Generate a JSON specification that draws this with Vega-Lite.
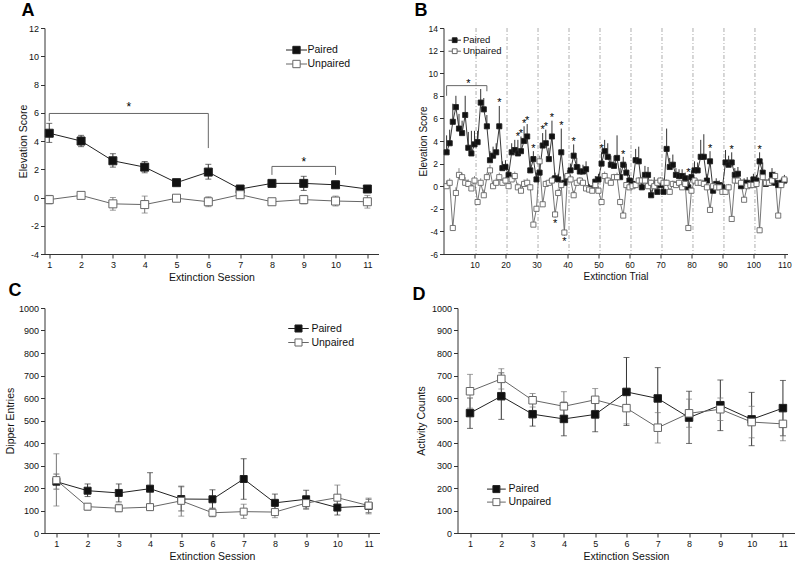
{
"$schema": "https://vega.github.io/schema/vega-lite/v6.json",
"padding": {"left": 5.5, "top": 2, "right": 0, "bottom": 0},
"background": "white",
"config": {
 "font": "Liberation Sans",
 "view": {"stroke": null},
 "locale": {"number": {"decimal": ".", "thousands": ",", "grouping": [3], "currency": ["$", ""], "minus": "-"}},
 "axis": {"grid": false, "labelOverlap": false, "domainColor": "#333", "tickColor": "#333", "labelColor": "#111", "titleColor": "#111", "labelFontSize": 9, "titleFontSize": 10.5, "titleFontWeight": "normal", "tickSize": 4, "labelPadding": 2, "domainWidth": 1, "tickWidth": 1, "labelFont": "Liberation Sans", "titleFont": "Liberation Sans"},
 "legend": {"labelFont": "Liberation Sans", "labelColor": "#111", "symbolStrokeWidth": 1, "rowPadding": 0, "padding": 0},
 "title": {"font": "Liberation Sans", "fontSize": 18, "fontWeight": "bold", "anchor": "start", "frame": "bounds", "color": "#000"}
},
"datasets": {
 "a": [
  {"s":1,"g":"Paired","v":4.55,"lo":3.9,"hi":5.25},{"s":2,"g":"Paired","v":4.0,"lo":3.6,"hi":4.4},{"s":3,"g":"Paired","v":2.6,"lo":2.15,"hi":3.1},{"s":4,"g":"Paired","v":2.15,"lo":1.75,"hi":2.55},{"s":5,"g":"Paired","v":1.05,"lo":0.9,"hi":1.2},{"s":6,"g":"Paired","v":1.8,"lo":1.3,"hi":2.35},{"s":7,"g":"Paired","v":0.6,"lo":0.5,"hi":0.7},{"s":8,"g":"Paired","v":1.0,"lo":0.85,"hi":1.15},{"s":9,"g":"Paired","v":1.0,"lo":0.5,"hi":1.5},{"s":10,"g":"Paired","v":0.9,"lo":0.65,"hi":1.15},{"s":11,"g":"Paired","v":0.6,"lo":0.5,"hi":0.7},
  {"s":1,"g":"Unpaired","v":-0.15,"lo":-0.45,"hi":0.15},{"s":2,"g":"Unpaired","v":0.15,"lo":0.05,"hi":0.25},{"s":3,"g":"Unpaired","v":-0.45,"lo":-0.9,"hi":0.0},{"s":4,"g":"Unpaired","v":-0.5,"lo":-1.1,"hi":0.1},{"s":5,"g":"Unpaired","v":-0.05,"lo":-0.2,"hi":0.1},{"s":6,"g":"Unpaired","v":-0.3,"lo":-0.65,"hi":0.05},{"s":7,"g":"Unpaired","v":0.2,"lo":0.1,"hi":0.3},{"s":8,"g":"Unpaired","v":-0.3,"lo":-0.5,"hi":-0.1},{"s":9,"g":"Unpaired","v":-0.15,"lo":-0.45,"hi":0.15},{"s":10,"g":"Unpaired","v":-0.25,"lo":-0.6,"hi":0.1},{"s":11,"g":"Unpaired","v":-0.3,"lo":-0.75,"hi":0.15}
 ],
 "aBr": [
  {"b":1,"i":1,"x":1,"y":5.4},{"b":1,"i":2,"x":1,"y":5.95},{"b":1,"i":3,"x":6,"y":5.95},{"b":1,"i":4,"x":6,"y":3.5},
  {"b":2,"i":1,"x":8,"y":1.6},{"b":2,"i":2,"x":8,"y":2.2},{"b":2,"i":3,"x":10,"y":2.2},{"b":2,"i":4,"x":10,"y":1.6}
 ],
 "aStar": [{"x":3.5,"y":6.6},{"x":9,"y":2.7}],
 "b": [
  {"t":1,"g":"Paired","v":3.0,"lo":3.0,"hi":4.5},{"t":2,"g":"Paired","v":3.8,"lo":3.8,"hi":5.0},{"t":3,"g":"Paired","v":5.7,"lo":5.7,"hi":7.3},{"t":4,"g":"Paired","v":7.0,"lo":7.0,"hi":8.0},{"t":5,"g":"Paired","v":5.1,"lo":5.1,"hi":6.4},{"t":6,"g":"Paired","v":4.7,"lo":4.7,"hi":5.8},{"t":7,"g":"Paired","v":6.3,"lo":6.3,"hi":8.0},{"t":8,"g":"Paired","v":3.4,"lo":3.4,"hi":4.8},{"t":9,"g":"Paired","v":2.9,"lo":2.9,"hi":4.9},{"t":10,"g":"Paired","v":3.7,"lo":3.7,"hi":4.9},
  {"t":11,"g":"Paired","v":3.9,"lo":3.9,"hi":4.9},{"t":12,"g":"Paired","v":7.4,"lo":7.4,"hi":8.6},{"t":13,"g":"Paired","v":6.8,"lo":6.8,"hi":7.8},{"t":14,"g":"Paired","v":5.3,"lo":5.3,"hi":6.3},{"t":15,"g":"Paired","v":2.3,"lo":2.3,"hi":3.1},{"t":16,"g":"Paired","v":2.7,"lo":2.7,"hi":3.5},{"t":17,"g":"Paired","v":3.0,"lo":3.0,"hi":3.8},{"t":18,"g":"Paired","v":5.3,"lo":5.3,"hi":7.1},{"t":19,"g":"Paired","v":1.6,"lo":1.6,"hi":2.2},{"t":20,"g":"Paired","v":1.7,"lo":1.7,"hi":2.3},
  {"t":21,"g":"Paired","v":1.0,"lo":1.0,"hi":1.5},{"t":22,"g":"Paired","v":3.0,"lo":3.0,"hi":3.8},{"t":23,"g":"Paired","v":3.2,"lo":3.2,"hi":4.1},{"t":24,"g":"Paired","v":2.9,"lo":2.9,"hi":4.1},{"t":25,"g":"Paired","v":3.1,"lo":3.1,"hi":4.4},{"t":26,"g":"Paired","v":4.0,"lo":4.0,"hi":5.3},{"t":27,"g":"Paired","v":4.4,"lo":4.4,"hi":5.5},{"t":28,"g":"Paired","v":1.4,"lo":1.4,"hi":2.2},{"t":29,"g":"Paired","v":2.4,"lo":2.4,"hi":3.1},{"t":30,"g":"Paired","v":0.6,"lo":0.6,"hi":1.2},
  {"t":31,"g":"Paired","v":1.2,"lo":1.2,"hi":2.0},{"t":32,"g":"Paired","v":3.6,"lo":3.6,"hi":4.7},{"t":33,"g":"Paired","v":3.8,"lo":3.8,"hi":5.0},{"t":34,"g":"Paired","v":2.4,"lo":2.4,"hi":3.4},{"t":35,"g":"Paired","v":4.4,"lo":4.4,"hi":5.8},{"t":36,"g":"Paired","v":0.7,"lo":0.7,"hi":1.2},{"t":37,"g":"Paired","v":0.6,"lo":0.6,"hi":1.1},{"t":38,"g":"Paired","v":3.0,"lo":3.0,"hi":5.1},{"t":39,"g":"Paired","v":0.3,"lo":0.3,"hi":0.7},{"t":40,"g":"Paired","v":0.8,"lo":0.8,"hi":1.4},
  {"t":41,"g":"Paired","v":1.4,"lo":1.4,"hi":2.0},{"t":42,"g":"Paired","v":2.7,"lo":2.7,"hi":3.7},{"t":43,"g":"Paired","v":1.7,"lo":1.7,"hi":2.5},{"t":44,"g":"Paired","v":1.3,"lo":1.3,"hi":1.9},{"t":45,"g":"Paired","v":1.3,"lo":1.3,"hi":1.9},{"t":46,"g":"Paired","v":1.5,"lo":1.5,"hi":2.2},{"t":47,"g":"Paired","v":-0.2,"lo":-0.2,"hi":0.2},{"t":48,"g":"Paired","v":-0.3,"lo":-0.3,"hi":0.1},{"t":49,"g":"Paired","v":0.4,"lo":0.4,"hi":0.9},{"t":50,"g":"Paired","v":0.6,"lo":0.6,"hi":1.1},
  {"t":51,"g":"Paired","v":2.0,"lo":2.0,"hi":3.0},{"t":52,"g":"Paired","v":3.1,"lo":3.1,"hi":4.1},{"t":53,"g":"Paired","v":2.6,"lo":2.6,"hi":3.8},{"t":54,"g":"Paired","v":1.9,"lo":1.9,"hi":2.7},{"t":55,"g":"Paired","v":1.8,"lo":1.8,"hi":2.7},{"t":56,"g":"Paired","v":2.5,"lo":2.5,"hi":4.5},{"t":57,"g":"Paired","v":0.8,"lo":0.8,"hi":1.6},{"t":58,"g":"Paired","v":1.9,"lo":1.9,"hi":2.6},{"t":59,"g":"Paired","v":1.2,"lo":1.2,"hi":2.0},{"t":60,"g":"Paired","v":0.5,"lo":0.5,"hi":1.0},
  {"t":61,"g":"Paired","v":0.2,"lo":0.2,"hi":0.7},{"t":62,"g":"Paired","v":2.3,"lo":2.3,"hi":3.3},{"t":63,"g":"Paired","v":2.2,"lo":2.2,"hi":3.5},{"t":64,"g":"Paired","v":-0.1,"lo":-0.1,"hi":0.3},{"t":65,"g":"Paired","v":1.0,"lo":1.0,"hi":1.8},{"t":66,"g":"Paired","v":1.0,"lo":1.0,"hi":1.7},{"t":67,"g":"Paired","v":-0.8,"lo":-0.8,"hi":-0.3},{"t":68,"g":"Paired","v":0.2,"lo":0.2,"hi":0.8},{"t":69,"g":"Paired","v":-0.5,"lo":-0.5,"hi":0.0},{"t":70,"g":"Paired","v":0.1,"lo":0.1,"hi":0.7},
  {"t":71,"g":"Paired","v":-0.5,"lo":-0.5,"hi":0.0},{"t":72,"g":"Paired","v":3.3,"lo":3.3,"hi":5.1},{"t":73,"g":"Paired","v":1.7,"lo":1.7,"hi":2.5},{"t":74,"g":"Paired","v":1.9,"lo":1.9,"hi":2.8},{"t":75,"g":"Paired","v":1.0,"lo":1.0,"hi":1.6},{"t":76,"g":"Paired","v":0.9,"lo":0.9,"hi":1.5},{"t":77,"g":"Paired","v":0.9,"lo":0.9,"hi":1.5},{"t":78,"g":"Paired","v":0.7,"lo":0.7,"hi":1.2},{"t":79,"g":"Paired","v":-0.1,"lo":-0.1,"hi":0.9},{"t":80,"g":"Paired","v":0.8,"lo":0.8,"hi":1.4},
  {"t":81,"g":"Paired","v":1.4,"lo":1.4,"hi":2.2},{"t":82,"g":"Paired","v":1.4,"lo":1.4,"hi":2.1},{"t":83,"g":"Paired","v":2.6,"lo":2.6,"hi":4.1},{"t":84,"g":"Paired","v":2.6,"lo":2.6,"hi":4.6},{"t":85,"g":"Paired","v":0.5,"lo":0.5,"hi":1.1},{"t":86,"g":"Paired","v":2.2,"lo":2.2,"hi":3.1},{"t":87,"g":"Paired","v":-0.4,"lo":-0.4,"hi":0.1},{"t":88,"g":"Paired","v":0.2,"lo":0.2,"hi":0.7},{"t":89,"g":"Paired","v":0.1,"lo":0.1,"hi":0.5},{"t":90,"g":"Paired","v":-0.1,"lo":-0.1,"hi":0.3},
  {"t":91,"g":"Paired","v":2.1,"lo":2.1,"hi":3.2},{"t":92,"g":"Paired","v":1.9,"lo":1.9,"hi":2.7},{"t":93,"g":"Paired","v":2.1,"lo":2.1,"hi":3.0},{"t":94,"g":"Paired","v":1.0,"lo":1.0,"hi":1.6},{"t":95,"g":"Paired","v":1.1,"lo":1.1,"hi":1.7},{"t":96,"g":"Paired","v":0.0,"lo":0.0,"hi":0.4},{"t":97,"g":"Paired","v":0.3,"lo":0.3,"hi":0.7},{"t":98,"g":"Paired","v":0.3,"lo":0.3,"hi":0.8},{"t":99,"g":"Paired","v":0.1,"lo":0.1,"hi":0.5},{"t":100,"g":"Paired","v":0.6,"lo":0.6,"hi":1.1},
  {"t":101,"g":"Paired","v":0.5,"lo":0.5,"hi":1.0},{"t":102,"g":"Paired","v":2.2,"lo":2.2,"hi":3.0},{"t":103,"g":"Paired","v":1.2,"lo":1.2,"hi":2.1},{"t":104,"g":"Paired","v":0.2,"lo":0.2,"hi":0.6},{"t":105,"g":"Paired","v":0.3,"lo":0.3,"hi":0.7},{"t":106,"g":"Paired","v":1.0,"lo":1.0,"hi":1.6},{"t":107,"g":"Paired","v":0.3,"lo":0.3,"hi":0.7},{"t":108,"g":"Paired","v":0.1,"lo":0.1,"hi":0.5},{"t":109,"g":"Paired","v":0.3,"lo":0.3,"hi":0.7},{"t":110,"g":"Paired","v":0.5,"lo":0.5,"hi":1.0},
  {"t":1,"g":"Unpaired","v":0.0,"lo":0.0,"hi":0.5},{"t":2,"g":"Unpaired","v":0.3,"lo":0.3,"hi":0.7},{"t":3,"g":"Unpaired","v":-3.7,"lo":-3.9,"hi":-3.7},{"t":4,"g":"Unpaired","v":-0.6,"lo":-0.6,"hi":-0.1},{"t":5,"g":"Unpaired","v":1.0,"lo":1.0,"hi":1.6},{"t":6,"g":"Unpaired","v":0.8,"lo":0.8,"hi":1.2},{"t":7,"g":"Unpaired","v":0.3,"lo":0.3,"hi":0.8},{"t":8,"g":"Unpaired","v":0.2,"lo":0.2,"hi":0.6},{"t":9,"g":"Unpaired","v":-0.2,"lo":-0.2,"hi":0.2},{"t":10,"g":"Unpaired","v":0.5,"lo":0.5,"hi":0.9},
  {"t":11,"g":"Unpaired","v":-1.4,"lo":-1.6,"hi":-1.4},{"t":12,"g":"Unpaired","v":0.3,"lo":0.3,"hi":0.7},{"t":13,"g":"Unpaired","v":-0.8,"lo":-0.8,"hi":-0.3},{"t":14,"g":"Unpaired","v":0.8,"lo":0.8,"hi":1.2},{"t":15,"g":"Unpaired","v":1.4,"lo":1.4,"hi":1.9},{"t":16,"g":"Unpaired","v":0.0,"lo":0.0,"hi":0.4},{"t":17,"g":"Unpaired","v":0.3,"lo":0.3,"hi":0.7},{"t":18,"g":"Unpaired","v":0.8,"lo":0.8,"hi":1.2},{"t":19,"g":"Unpaired","v":0.3,"lo":0.3,"hi":0.6},{"t":20,"g":"Unpaired","v":0.5,"lo":0.5,"hi":0.8},
  {"t":21,"g":"Unpaired","v":0.0,"lo":0.0,"hi":0.3},{"t":22,"g":"Unpaired","v":0.6,"lo":0.6,"hi":1.0},{"t":23,"g":"Unpaired","v":0.9,"lo":0.9,"hi":1.3},{"t":24,"g":"Unpaired","v":-0.1,"lo":-0.1,"hi":0.3},{"t":25,"g":"Unpaired","v":-0.4,"lo":-0.4,"hi":0.0},{"t":26,"g":"Unpaired","v":0.2,"lo":0.2,"hi":0.6},{"t":27,"g":"Unpaired","v":0.3,"lo":0.3,"hi":0.7},{"t":28,"g":"Unpaired","v":-0.1,"lo":-0.1,"hi":0.2},{"t":29,"g":"Unpaired","v":-3.4,"lo":-3.6,"hi":-3.4},{"t":30,"g":"Unpaired","v":-2.0,"lo":-2.2,"hi":-2.0},
  {"t":31,"g":"Unpaired","v":2.2,"lo":2.2,"hi":2.7},{"t":32,"g":"Unpaired","v":-1.6,"lo":-1.8,"hi":-1.6},{"t":33,"g":"Unpaired","v":0.2,"lo":0.2,"hi":0.5},{"t":34,"g":"Unpaired","v":0.3,"lo":0.3,"hi":0.6},{"t":35,"g":"Unpaired","v":0.5,"lo":0.5,"hi":0.9},{"t":36,"g":"Unpaired","v":-2.5,"lo":-2.8,"hi":-2.5},{"t":37,"g":"Unpaired","v":-0.6,"lo":-0.6,"hi":-0.2},{"t":38,"g":"Unpaired","v":0.1,"lo":0.1,"hi":0.5},{"t":39,"g":"Unpaired","v":-4.1,"lo":-4.4,"hi":-4.1},{"t":40,"g":"Unpaired","v":0.9,"lo":0.9,"hi":1.3},
  {"t":41,"g":"Unpaired","v":0.6,"lo":0.6,"hi":1.0},{"t":42,"g":"Unpaired","v":-0.8,"lo":-0.8,"hi":-0.4},{"t":43,"g":"Unpaired","v":0.3,"lo":0.3,"hi":0.6},{"t":44,"g":"Unpaired","v":0.5,"lo":0.5,"hi":0.8},{"t":45,"g":"Unpaired","v":0.3,"lo":0.3,"hi":0.6},{"t":46,"g":"Unpaired","v":-0.2,"lo":-0.2,"hi":0.1},{"t":47,"g":"Unpaired","v":-0.3,"lo":-0.3,"hi":0.0},{"t":48,"g":"Unpaired","v":-0.4,"lo":-0.4,"hi":0.0},{"t":49,"g":"Unpaired","v":0.1,"lo":0.1,"hi":0.4},{"t":50,"g":"Unpaired","v":-0.4,"lo":-0.4,"hi":0.0},
  {"t":51,"g":"Unpaired","v":-1.4,"lo":-1.6,"hi":-1.4},{"t":52,"g":"Unpaired","v":0.9,"lo":0.9,"hi":1.3},{"t":53,"g":"Unpaired","v":0.5,"lo":0.5,"hi":0.8},{"t":54,"g":"Unpaired","v":0.3,"lo":0.3,"hi":0.6},{"t":55,"g":"Unpaired","v":0.8,"lo":0.8,"hi":1.1},{"t":56,"g":"Unpaired","v":0.8,"lo":0.8,"hi":1.2},{"t":57,"g":"Unpaired","v":-1.4,"lo":-1.6,"hi":-1.4},{"t":58,"g":"Unpaired","v":-2.6,"lo":-2.8,"hi":-2.6},{"t":59,"g":"Unpaired","v":0.1,"lo":0.1,"hi":0.4},{"t":60,"g":"Unpaired","v":-0.1,"lo":-0.1,"hi":0.2},
  {"t":61,"g":"Unpaired","v":0.0,"lo":0.0,"hi":0.3},{"t":62,"g":"Unpaired","v":0.1,"lo":0.1,"hi":0.4},{"t":63,"g":"Unpaired","v":0.5,"lo":0.5,"hi":0.8},{"t":64,"g":"Unpaired","v":0.5,"lo":0.5,"hi":0.8},{"t":65,"g":"Unpaired","v":0.5,"lo":0.5,"hi":0.8},{"t":66,"g":"Unpaired","v":0.0,"lo":0.0,"hi":0.3},{"t":67,"g":"Unpaired","v":0.3,"lo":0.3,"hi":0.6},{"t":68,"g":"Unpaired","v":0.0,"lo":0.0,"hi":0.3},{"t":69,"g":"Unpaired","v":0.3,"lo":0.3,"hi":0.6},{"t":70,"g":"Unpaired","v":0.5,"lo":0.5,"hi":0.8},
  {"t":71,"g":"Unpaired","v":0.3,"lo":0.3,"hi":0.6},{"t":72,"g":"Unpaired","v":0.3,"lo":0.3,"hi":0.6},{"t":73,"g":"Unpaired","v":-0.5,"lo":-0.5,"hi":-0.2},{"t":74,"g":"Unpaired","v":0.2,"lo":0.2,"hi":0.5},{"t":75,"g":"Unpaired","v":0.1,"lo":0.1,"hi":0.4},{"t":76,"g":"Unpaired","v":0.3,"lo":0.3,"hi":0.6},{"t":77,"g":"Unpaired","v":-0.1,"lo":-0.1,"hi":0.2},{"t":78,"g":"Unpaired","v":0.2,"lo":0.2,"hi":0.5},{"t":79,"g":"Unpaired","v":-3.7,"lo":-3.9,"hi":-3.7},{"t":80,"g":"Unpaired","v":-0.4,"lo":-0.4,"hi":-0.1},
  {"t":81,"g":"Unpaired","v":0.5,"lo":0.5,"hi":0.8},{"t":82,"g":"Unpaired","v":0.3,"lo":0.3,"hi":0.6},{"t":83,"g":"Unpaired","v":0.3,"lo":0.3,"hi":0.6},{"t":84,"g":"Unpaired","v":0.2,"lo":0.2,"hi":0.5},{"t":85,"g":"Unpaired","v":-0.1,"lo":-0.1,"hi":0.2},{"t":86,"g":"Unpaired","v":-2.1,"lo":-2.3,"hi":-2.1},{"t":87,"g":"Unpaired","v":0.0,"lo":0.0,"hi":0.3},{"t":88,"g":"Unpaired","v":-0.1,"lo":-0.1,"hi":0.2},{"t":89,"g":"Unpaired","v":-0.1,"lo":-0.1,"hi":0.2},{"t":90,"g":"Unpaired","v":-0.5,"lo":-0.5,"hi":-0.2},
  {"t":91,"g":"Unpaired","v":-0.5,"lo":-0.5,"hi":-0.2},{"t":92,"g":"Unpaired","v":-0.1,"lo":-0.1,"hi":0.2},{"t":93,"g":"Unpaired","v":-2.9,"lo":-3.1,"hi":-2.9},{"t":94,"g":"Unpaired","v":0.5,"lo":0.5,"hi":0.8},{"t":95,"g":"Unpaired","v":0.5,"lo":0.5,"hi":0.8},{"t":96,"g":"Unpaired","v":0.3,"lo":0.3,"hi":0.6},{"t":97,"g":"Unpaired","v":-1.2,"lo":-1.4,"hi":-1.2},{"t":98,"g":"Unpaired","v":0.0,"lo":0.0,"hi":0.3},{"t":99,"g":"Unpaired","v":0.1,"lo":0.1,"hi":0.4},{"t":100,"g":"Unpaired","v":0.1,"lo":0.1,"hi":0.4},
  {"t":101,"g":"Unpaired","v":0.2,"lo":0.2,"hi":0.5},{"t":102,"g":"Unpaired","v":-3.9,"lo":-4.1,"hi":-3.9},{"t":103,"g":"Unpaired","v":0.8,"lo":0.8,"hi":1.1},{"t":104,"g":"Unpaired","v":0.3,"lo":0.3,"hi":0.6},{"t":105,"g":"Unpaired","v":0.3,"lo":0.3,"hi":0.6},{"t":106,"g":"Unpaired","v":0.5,"lo":0.5,"hi":0.8},{"t":107,"g":"Unpaired","v":0.9,"lo":0.9,"hi":1.3},{"t":108,"g":"Unpaired","v":-2.6,"lo":-2.8,"hi":-2.6},{"t":109,"g":"Unpaired","v":0.1,"lo":0.1,"hi":0.4},{"t":110,"g":"Unpaired","v":0.6,"lo":0.6,"hi":0.9}
 ],
 "bBr": [{"b":1,"i":1,"x":1,"y":8.0},{"b":1,"i":2,"x":1,"y":8.9},{"b":1,"i":3,"x":14,"y":8.9},{"b":1,"i":4,"x":14,"y":8.4}],
 "bStar": [{"x":8,"y":9.3},{"x":18,"y":7.6},{"x":24,"y":4.6},{"x":25,"y":4.9},{"x":26,"y":5.8},{"x":27,"y":6.0},{"x":29,"y":3.6},{"x":32,"y":5.2},{"x":33,"y":5.5},{"x":35,"y":6.3},{"x":38,"y":5.6},{"x":42,"y":4.2},{"x":36,"y":-3.1},{"x":39,"y":-4.7},{"x":51,"y":3.6},{"x":58,"y":3.0},{"x":79,"y":1.4},{"x":86,"y":3.6},{"x":93,"y":3.5},{"x":102,"y":3.5}],
 "bSep": [{"x":10.5},{"x":20.5},{"x":30.5},{"x":40.5},{"x":50.5},{"x":60.5},{"x":70.5},{"x":80.5},{"x":90.5},{"x":100.5}],
 "c": [
  {"s":1,"g":"Paired","v":228,"lo":195,"hi":262},{"s":2,"g":"Paired","v":188,"lo":162,"hi":218},{"s":3,"g":"Paired","v":178,"lo":138,"hi":218},{"s":4,"g":"Paired","v":197,"lo":127,"hi":268},{"s":5,"g":"Paired","v":151,"lo":98,"hi":208},{"s":6,"g":"Paired","v":150,"lo":110,"hi":192},{"s":7,"g":"Paired","v":240,"lo":150,"hi":330},{"s":8,"g":"Paired","v":134,"lo":95,"hi":173},{"s":9,"g":"Paired","v":150,"lo":110,"hi":190},{"s":10,"g":"Paired","v":113,"lo":80,"hi":148},{"s":11,"g":"Paired","v":120,"lo":90,"hi":150},
  {"s":1,"g":"Unpaired","v":235,"lo":120,"hi":352},{"s":2,"g":"Unpaired","v":117,"lo":102,"hi":130},{"s":3,"g":"Unpaired","v":110,"lo":95,"hi":128},{"s":4,"g":"Unpaired","v":115,"lo":100,"hi":130},{"s":5,"g":"Unpaired","v":143,"lo":75,"hi":205},{"s":6,"g":"Unpaired","v":90,"lo":72,"hi":110},{"s":7,"g":"Unpaired","v":95,"lo":65,"hi":128},{"s":8,"g":"Unpaired","v":93,"lo":68,"hi":118},{"s":9,"g":"Unpaired","v":133,"lo":105,"hi":148},{"s":10,"g":"Unpaired","v":157,"lo":100,"hi":213},{"s":11,"g":"Unpaired","v":122,"lo":85,"hi":155}
 ],
 "d": [
  {"s":1,"g":"Paired","v":533,"lo":465,"hi":600},{"s":2,"g":"Paired","v":608,"lo":505,"hi":712},{"s":3,"g":"Paired","v":528,"lo":475,"hi":582},{"s":4,"g":"Paired","v":507,"lo":432,"hi":582},{"s":5,"g":"Paired","v":527,"lo":450,"hi":605},{"s":6,"g":"Paired","v":627,"lo":478,"hi":780},{"s":7,"g":"Paired","v":598,"lo":460,"hi":735},{"s":8,"g":"Paired","v":513,"lo":398,"hi":630},{"s":9,"g":"Paired","v":568,"lo":455,"hi":680},{"s":10,"g":"Paired","v":505,"lo":388,"hi":625},{"s":11,"g":"Paired","v":555,"lo":432,"hi":678},
  {"s":1,"g":"Unpaired","v":630,"lo":555,"hi":705},{"s":2,"g":"Unpaired","v":685,"lo":640,"hi":730},{"s":3,"g":"Unpaired","v":590,"lo":560,"hi":620},{"s":4,"g":"Unpaired","v":563,"lo":500,"hi":628},{"s":5,"g":"Unpaired","v":592,"lo":545,"hi":642},{"s":6,"g":"Unpaired","v":555,"lo":485,"hi":625},{"s":7,"g":"Unpaired","v":468,"lo":400,"hi":535},{"s":8,"g":"Unpaired","v":532,"lo":470,"hi":595},{"s":9,"g":"Unpaired","v":550,"lo":500,"hi":600},{"s":10,"g":"Unpaired","v":493,"lo":423,"hi":563},{"s":11,"g":"Unpaired","v":485,"lo":410,"hi":560}
 ]
},
"resolve": {"scale": {"fill": "independent", "stroke": "independent"}, "legend": {"fill": "independent", "stroke": "independent"}},
"spacing": -1,
"vconcat": [
 {
  "spacing": 36,
  "resolve": {"scale": {"fill": "independent", "stroke": "independent"}, "legend": {"fill": "independent", "stroke": "independent"}},
  "hconcat": [
   {
    "width": 334, "height": 226,
    "title": {"text": "A", "offset": 4, "dx": 3},
    "layer": [
     {"mark": {"type": "rule", "strokeDash": [1, 2], "color": "#777", "strokeWidth": 0.8}, "encoding": {"y": {"datum": 0, "type": "quantitative", "title": "Elevation Score", "axis": {"values": [-4,-2,0,2,4,6,8,10,12], "labelOverlap": false, "format": "d", "minExtent": 15, "maxExtent": 15, "titlePadding": 1}}}},
     {"data": {"name": "aBr"}, "mark": {"type": "line", "color": "#666", "strokeWidth": 1}, "encoding": {"x": {"field": "x", "type": "quantitative", "title": "Extinction Session", "axis": {"values": [1,2,3,4,5,6,7,8,9,10,11], "labelOverlap": false, "format": "d", "titlePadding": 3}}, "y": {"field": "y", "type": "quantitative", "title": "Elevation Score", "axis": {"values": [-4,-2,0,2,4,6,8,10,12], "labelOverlap": false, "format": "d", "minExtent": 15, "maxExtent": 15, "titlePadding": 1}}, "detail": {"field": "b"}, "order": {"field": "i"}}},
     {"data": {"name": "aStar"}, "mark": {"type": "text", "text": "*", "fontSize": 12, "baseline": "alphabetic", "dy": 6.5, "color": "#000"}, "encoding": {"x": {"field": "x", "type": "quantitative", "title": "Extinction Session", "axis": {"values": [1,2,3,4,5,6,7,8,9,10,11], "labelOverlap": false, "format": "d", "titlePadding": 3}}, "y": {"field": "y", "type": "quantitative", "title": "Elevation Score", "axis": {"values": [-4,-2,0,2,4,6,8,10,12], "labelOverlap": false, "format": "d", "minExtent": 15, "maxExtent": 15, "titlePadding": 1}}}},
     {"data": {"name": "a"}, "transform": [{"filter": {"field": "g", "equal": "Paired"}}], "mark": {"type": "errorbar", "ticks": {"size": 6}, "thickness": 1, "color": "#333"}, "encoding": {"x": {"field": "s", "type": "quantitative", "title": "Extinction Session", "axis": {"values": [1,2,3,4,5,6,7,8,9,10,11], "labelOverlap": false, "format": "d", "titlePadding": 3}}, "y": {"field": "lo", "type": "quantitative", "title": "Elevation Score", "axis": {"values": [-4,-2,0,2,4,6,8,10,12], "labelOverlap": false, "format": "d", "minExtent": 15, "maxExtent": 15, "titlePadding": 1}}, "y2": {"field": "hi"}}},
     {"data": {"name": "a"}, "transform": [{"filter": {"field": "g", "equal": "Unpaired"}}], "mark": {"type": "errorbar", "ticks": {"size": 6}, "thickness": 1, "color": "#777"}, "encoding": {"x": {"field": "s", "type": "quantitative", "title": "Extinction Session", "axis": {"values": [1,2,3,4,5,6,7,8,9,10,11], "labelOverlap": false, "format": "d", "titlePadding": 3}}, "y": {"field": "lo", "type": "quantitative", "title": "Elevation Score", "axis": {"values": [-4,-2,0,2,4,6,8,10,12], "labelOverlap": false, "format": "d", "minExtent": 15, "maxExtent": 15, "titlePadding": 1}}, "y2": {"field": "hi"}}},
     {"data": {"name": "a"}, "mark": {"type": "line", "strokeWidth": 1}, "encoding": {"x": {"field": "s", "type": "quantitative", "title": "Extinction Session", "axis": {"values": [1,2,3,4,5,6,7,8,9,10,11], "labelOverlap": false, "format": "d", "titlePadding": 3}}, "y": {"field": "v", "type": "quantitative", "title": "Elevation Score", "axis": {"values": [-4,-2,0,2,4,6,8,10,12], "labelOverlap": false, "format": "d", "minExtent": 15, "maxExtent": 15, "titlePadding": 1}}, "stroke": {"field": "g", "type": "nominal", "scale": {"domain": ["Paired", "Unpaired"], "range": ["#222", "#666"]}}, "detail": {"field": "g"}}},
     {"data": {"name": "a"}, "mark": {"type": "square", "size": 64, "opacity": 1, "strokeWidth": 1},
      "encoding": {
       "x": {"field": "s", "type": "quantitative", "title": "Extinction Session", "scale": {"domain": [0.85, 11.35], "nice": false, "zero": false}, "axis": {"values": [1,2,3,4,5,6,7,8,9,10,11], "labelOverlap": false, "format": "d", "titlePadding": 3}},
       "y": {"field": "v", "type": "quantitative", "title": "Elevation Score", "scale": {"domain": [-4, 12], "nice": false, "zero": false}, "axis": {"values": [-4,-2,0,2,4,6,8,10,12], "labelOverlap": false, "format": "d", "minExtent": 15, "maxExtent": 15, "titlePadding": 1}},
       "fill": {"field": "g", "type": "nominal", "scale": {"domain": ["Paired", "Unpaired"], "range": ["#111", "#fff"]}, "legend": {"title": null, "orient": "none", "legendX": 244, "legendY": 14, "symbolType": "M-1.4,0H-0.49M0.49,0H1.4M-0.49,-0.49H0.49V0.49H-0.49Z", "symbolSize": 225, "labelFontSize": 10.5, "labelOffset": 3}},
       "stroke": {"field": "g", "type": "nominal", "scale": {"domain": ["Paired", "Unpaired"], "range": ["#222", "#666"]}, "legend": {"title": null, "orient": "none", "legendX": 244, "legendY": 14, "symbolType": "M-1.4,0H-0.49M0.49,0H1.4M-0.49,-0.49H0.49V0.49H-0.49Z", "symbolSize": 225, "labelFontSize": 10.5, "labelOffset": 3}}
      }}
    ]
   },
   {
    "width": 344, "height": 226,
    "title": {"text": "B", "offset": 4, "dx": -4},
    "layer": [
     {"data": {"name": "bSep"}, "mark": {"type": "rule", "strokeDash": [4, 2, 1, 2], "color": "#999", "strokeWidth": 0.8}, "encoding": {"x": {"field": "x", "type": "quantitative", "title": "Extinction Trial", "axis": {"values": [10,20,30,40,50,60,70,80,90,100,110], "labelOverlap": false, "format": "d", "labelFontSize": 8.5, "titleFontSize": 10, "titlePadding": 3}}}},
     {"mark": {"type": "rule", "strokeDash": [1, 2], "color": "#777", "strokeWidth": 0.8}, "encoding": {"y": {"datum": 0, "type": "quantitative", "title": "Elevation Score", "axis": {"values": [-6,-4,-2,0,2,4,6,8,10,12,14], "labelOverlap": false, "format": "d", "labelFontSize": 8.5, "titleFontSize": 10, "minExtent": 14, "maxExtent": 14, "titlePadding": 1}}}},
     {"data": {"name": "bBr"}, "mark": {"type": "line", "color": "#666", "strokeWidth": 1}, "encoding": {"x": {"field": "x", "type": "quantitative", "title": "Extinction Trial", "axis": {"values": [10,20,30,40,50,60,70,80,90,100,110], "labelOverlap": false, "format": "d", "labelFontSize": 8.5, "titleFontSize": 10, "titlePadding": 3}}, "y": {"field": "y", "type": "quantitative", "title": "Elevation Score", "axis": {"values": [-6,-4,-2,0,2,4,6,8,10,12,14], "labelOverlap": false, "format": "d", "labelFontSize": 8.5, "titleFontSize": 10, "minExtent": 14, "maxExtent": 14, "titlePadding": 1}}, "detail": {"field": "b"}, "order": {"field": "i"}}},
     {"data": {"name": "bStar"}, "mark": {"type": "text", "text": "*", "fontSize": 11, "baseline": "alphabetic", "dy": 6, "color": "#000"}, "encoding": {"x": {"field": "x", "type": "quantitative", "title": "Extinction Trial", "axis": {"values": [10,20,30,40,50,60,70,80,90,100,110], "labelOverlap": false, "format": "d", "labelFontSize": 8.5, "titleFontSize": 10, "titlePadding": 3}}, "y": {"field": "y", "type": "quantitative", "title": "Elevation Score", "axis": {"values": [-6,-4,-2,0,2,4,6,8,10,12,14], "labelOverlap": false, "format": "d", "labelFontSize": 8.5, "titleFontSize": 10, "minExtent": 14, "maxExtent": 14, "titlePadding": 1}}}},
     {"data": {"name": "b"}, "transform": [{"filter": {"field": "g", "equal": "Paired"}}], "mark": {"type": "rule", "strokeWidth": 1, "color": "#333"}, "encoding": {"x": {"field": "t", "type": "quantitative", "title": "Extinction Trial", "axis": {"values": [10,20,30,40,50,60,70,80,90,100,110], "labelOverlap": false, "format": "d", "labelFontSize": 8.5, "titleFontSize": 10, "titlePadding": 3}}, "y": {"field": "lo", "type": "quantitative", "title": "Elevation Score", "axis": {"values": [-6,-4,-2,0,2,4,6,8,10,12,14], "labelOverlap": false, "format": "d", "labelFontSize": 8.5, "titleFontSize": 10, "minExtent": 14, "maxExtent": 14, "titlePadding": 1}}, "y2": {"field": "hi"}}},
     {"data": {"name": "b"}, "transform": [{"filter": {"field": "g", "equal": "Unpaired"}}], "mark": {"type": "rule", "strokeWidth": 1, "color": "#888"}, "encoding": {"x": {"field": "t", "type": "quantitative", "title": "Extinction Trial", "axis": {"values": [10,20,30,40,50,60,70,80,90,100,110], "labelOverlap": false, "format": "d", "labelFontSize": 8.5, "titleFontSize": 10, "titlePadding": 3}}, "y": {"field": "lo", "type": "quantitative", "title": "Elevation Score", "axis": {"values": [-6,-4,-2,0,2,4,6,8,10,12,14], "labelOverlap": false, "format": "d", "labelFontSize": 8.5, "titleFontSize": 10, "minExtent": 14, "maxExtent": 14, "titlePadding": 1}}, "y2": {"field": "hi"}}},
     {"data": {"name": "b"}, "mark": {"type": "line", "strokeWidth": 0.9}, "encoding": {"x": {"field": "t", "type": "quantitative", "title": "Extinction Trial", "axis": {"values": [10,20,30,40,50,60,70,80,90,100,110], "labelOverlap": false, "format": "d", "labelFontSize": 8.5, "titleFontSize": 10, "titlePadding": 3}}, "y": {"field": "v", "type": "quantitative", "title": "Elevation Score", "axis": {"values": [-6,-4,-2,0,2,4,6,8,10,12,14], "labelOverlap": false, "format": "d", "labelFontSize": 8.5, "titleFontSize": 10, "minExtent": 14, "maxExtent": 14, "titlePadding": 1}}, "stroke": {"field": "g", "type": "nominal", "scale": {"domain": ["Paired", "Unpaired"], "range": ["#222", "#666"]}}, "detail": {"field": "g"}}},
     {"data": {"name": "b"}, "mark": {"type": "square", "size": 26, "opacity": 1, "strokeWidth": 0.9},
      "encoding": {
       "x": {"field": "t", "type": "quantitative", "title": "Extinction Trial", "scale": {"domain": [0, 111], "nice": false, "zero": false}, "axis": {"values": [10,20,30,40,50,60,70,80,90,100,110], "labelOverlap": false, "format": "d", "labelFontSize": 8.5, "titleFontSize": 10, "titlePadding": 3}},
       "y": {"field": "v", "type": "quantitative", "title": "Elevation Score", "scale": {"domain": [-6, 14], "nice": false, "zero": false}, "axis": {"values": [-6,-4,-2,0,2,4,6,8,10,12,14], "labelOverlap": false, "format": "d", "labelFontSize": 8.5, "titleFontSize": 10, "minExtent": 14, "maxExtent": 14, "titlePadding": 1}},
       "fill": {"field": "g", "type": "nominal", "scale": {"domain": ["Paired", "Unpaired"], "range": ["#111", "#fff"]}, "legend": {"title": null, "orient": "none", "legendX": 4.7, "legendY": 5.7, "symbolType": "M-1.07,0H-0.41M0.41,0H1.07M-0.41,-0.41H0.41V0.41H-0.41Z", "symbolSize": 135, "labelFontSize": 9.5, "labelOffset": 1.7}},
       "stroke": {"field": "g", "type": "nominal", "scale": {"domain": ["Paired", "Unpaired"], "range": ["#222", "#666"]}, "legend": {"title": null, "orient": "none", "legendX": 4.7, "legendY": 5.7, "symbolType": "M-1.07,0H-0.41M0.41,0H1.07M-0.41,-0.41H0.41V0.41H-0.41Z", "symbolSize": 135, "labelFontSize": 9.5, "labelOffset": 1.7}}
      }}
    ]
   }
  ]
 },
 {
  "spacing": 33,
  "resolve": {"scale": {"fill": "independent", "stroke": "independent"}, "legend": {"fill": "independent", "stroke": "independent"}},
  "hconcat": [
   {
    "width": 335, "height": 225,
    "title": {"text": "C", "offset": 4, "dx": 3},
    "layer": [
     {"data": {"name": "c"}, "transform": [{"filter": {"field": "g", "equal": "Paired"}}], "mark": {"type": "errorbar", "ticks": {"size": 6}, "thickness": 1, "color": "#333"}, "encoding": {"x": {"field": "s", "type": "quantitative", "title": "Extinction Session", "axis": {"values": [1,2,3,4,5,6,7,8,9,10,11], "labelOverlap": false, "format": "d", "titlePadding": 3}}, "y": {"field": "lo", "type": "quantitative", "title": "Dipper Entries", "axis": {"values": [0,100,200,300,400,500,600,700,800,900,1000], "labelOverlap": false, "format": "d", "minExtent": 29, "maxExtent": 29, "titlePadding": 0}}, "y2": {"field": "hi"}}},
     {"data": {"name": "c"}, "transform": [{"filter": {"field": "g", "equal": "Unpaired"}}], "mark": {"type": "errorbar", "ticks": {"size": 6}, "thickness": 1, "color": "#777"}, "encoding": {"x": {"field": "s", "type": "quantitative", "title": "Extinction Session", "axis": {"values": [1,2,3,4,5,6,7,8,9,10,11], "labelOverlap": false, "format": "d", "titlePadding": 3}}, "y": {"field": "lo", "type": "quantitative", "title": "Dipper Entries", "axis": {"values": [0,100,200,300,400,500,600,700,800,900,1000], "labelOverlap": false, "format": "d", "minExtent": 29, "maxExtent": 29, "titlePadding": 0}}, "y2": {"field": "hi"}}},
     {"data": {"name": "c"}, "mark": {"type": "line", "strokeWidth": 1}, "encoding": {"x": {"field": "s", "type": "quantitative", "title": "Extinction Session", "axis": {"values": [1,2,3,4,5,6,7,8,9,10,11], "labelOverlap": false, "format": "d", "titlePadding": 3}}, "y": {"field": "v", "type": "quantitative", "title": "Dipper Entries", "axis": {"values": [0,100,200,300,400,500,600,700,800,900,1000], "labelOverlap": false, "format": "d", "minExtent": 29, "maxExtent": 29, "titlePadding": 0}}, "stroke": {"field": "g", "type": "nominal", "scale": {"domain": ["Paired", "Unpaired"], "range": ["#222", "#666"]}}, "detail": {"field": "g"}}},
     {"data": {"name": "c"}, "mark": {"type": "square", "size": 49, "opacity": 1, "strokeWidth": 1},
      "encoding": {
       "x": {"field": "s", "type": "quantitative", "title": "Extinction Session", "scale": {"domain": [0.62, 11.35], "nice": false, "zero": false}, "axis": {"values": [1,2,3,4,5,6,7,8,9,10,11], "labelOverlap": false, "format": "d", "titlePadding": 3}},
       "y": {"field": "v", "type": "quantitative", "title": "Dipper Entries", "scale": {"domain": [0, 1000], "nice": false}, "axis": {"values": [0,100,200,300,400,500,600,700,800,900,1000], "labelOverlap": false, "format": "d", "minExtent": 29, "maxExtent": 29, "titlePadding": 0}},
       "fill": {"field": "g", "type": "nominal", "scale": {"domain": ["Paired", "Unpaired"], "range": ["#111", "#fff"]}, "legend": {"title": null, "orient": "none", "legendX": 246, "legendY": 12.5, "symbolType": "M-1.37,0H-0.47M0.47,0H1.37M-0.47,-0.47H0.47V0.47H-0.47Z", "symbolSize": 225, "labelFontSize": 10.5, "labelOffset": 4.9}},
       "stroke": {"field": "g", "type": "nominal", "scale": {"domain": ["Paired", "Unpaired"], "range": ["#222", "#666"]}, "legend": {"title": null, "orient": "none", "legendX": 246, "legendY": 12.5, "symbolType": "M-1.37,0H-0.47M0.47,0H1.37M-0.47,-0.47H0.47V0.47H-0.47Z", "symbolSize": 225, "labelFontSize": 10.5, "labelOffset": 4.9}}
      }}
    ]
   },
   {
    "width": 337, "height": 225,
    "title": {"text": "D", "offset": 0, "dx": -4},
    "layer": [
     {"data": {"name": "d"}, "transform": [{"filter": {"field": "g", "equal": "Paired"}}], "mark": {"type": "errorbar", "ticks": {"size": 6}, "thickness": 1, "color": "#333"}, "encoding": {"x": {"field": "s", "type": "quantitative", "title": "Extinction Session", "axis": {"values": [1,2,3,4,5,6,7,8,9,10,11], "labelOverlap": false, "format": "d", "titlePadding": 3}}, "y": {"field": "lo", "type": "quantitative", "title": "Activity Counts", "axis": {"values": [0,100,200,300,400,500,600,700,800,900,1000], "labelOverlap": false, "format": "d", "minExtent": 31, "maxExtent": 31, "titlePadding": 0}}, "y2": {"field": "hi"}}},
     {"data": {"name": "d"}, "transform": [{"filter": {"field": "g", "equal": "Unpaired"}}], "mark": {"type": "errorbar", "ticks": {"size": 6}, "thickness": 1, "color": "#777"}, "encoding": {"x": {"field": "s", "type": "quantitative", "title": "Extinction Session", "axis": {"values": [1,2,3,4,5,6,7,8,9,10,11], "labelOverlap": false, "format": "d", "titlePadding": 3}}, "y": {"field": "lo", "type": "quantitative", "title": "Activity Counts", "axis": {"values": [0,100,200,300,400,500,600,700,800,900,1000], "labelOverlap": false, "format": "d", "minExtent": 31, "maxExtent": 31, "titlePadding": 0}}, "y2": {"field": "hi"}}},
     {"data": {"name": "d"}, "mark": {"type": "line", "strokeWidth": 1}, "encoding": {"x": {"field": "s", "type": "quantitative", "title": "Extinction Session", "axis": {"values": [1,2,3,4,5,6,7,8,9,10,11], "labelOverlap": false, "format": "d", "titlePadding": 3}}, "y": {"field": "v", "type": "quantitative", "title": "Activity Counts", "axis": {"values": [0,100,200,300,400,500,600,700,800,900,1000], "labelOverlap": false, "format": "d", "minExtent": 31, "maxExtent": 31, "titlePadding": 0}}, "stroke": {"field": "g", "type": "nominal", "scale": {"domain": ["Paired", "Unpaired"], "range": ["#222", "#666"]}}, "detail": {"field": "g"}}},
     {"data": {"name": "d"}, "mark": {"type": "square", "size": 56, "opacity": 1, "strokeWidth": 1},
      "encoding": {
       "x": {"field": "s", "type": "quantitative", "title": "Extinction Session", "scale": {"domain": [0.6, 11.37], "nice": false, "zero": false}, "axis": {"values": [1,2,3,4,5,6,7,8,9,10,11], "labelOverlap": false, "format": "d", "titlePadding": 3}},
       "y": {"field": "v", "type": "quantitative", "title": "Activity Counts", "scale": {"domain": [0, 1000], "nice": false}, "axis": {"values": [0,100,200,300,400,500,600,700,800,900,1000], "labelOverlap": false, "format": "d", "minExtent": 31, "maxExtent": 31, "titlePadding": 0}},
       "fill": {"field": "g", "type": "nominal", "scale": {"domain": ["Paired", "Unpaired"], "range": ["#111", "#fff"]}, "legend": {"title": null, "orient": "none", "legendX": 31.4, "legendY": 173.6, "symbolType": "M-1.34,0H-0.5M0.5,0H1.34M-0.5,-0.5H0.5V0.5H-0.5Z", "symbolSize": 196, "labelFontSize": 10.5, "labelOffset": 4.6}},
       "stroke": {"field": "g", "type": "nominal", "scale": {"domain": ["Paired", "Unpaired"], "range": ["#222", "#666"]}, "legend": {"title": null, "orient": "none", "legendX": 31.4, "legendY": 173.6, "symbolType": "M-1.34,0H-0.5M0.5,0H1.34M-0.5,-0.5H0.5V0.5H-0.5Z", "symbolSize": 196, "labelFontSize": 10.5, "labelOffset": 4.6}}
      }}
    ]
   }
  ]
 }
]
}
